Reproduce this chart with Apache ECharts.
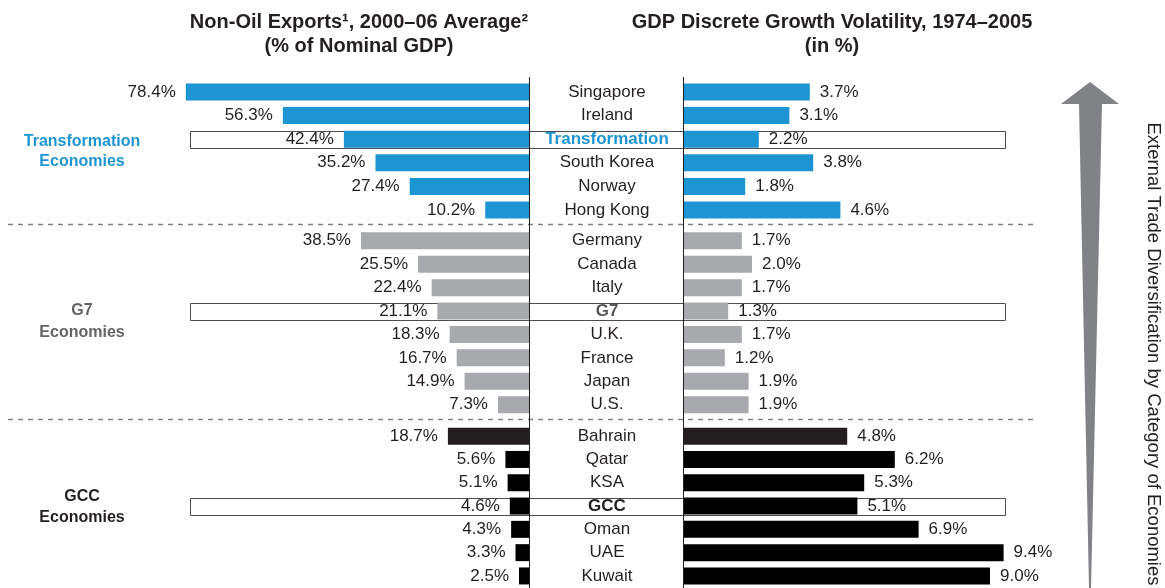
<!DOCTYPE html>
<html>
<head>
<meta charset="utf-8">
<script src="https://cdn.jsdelivr.net/npm/echarts@6/dist/echarts.min.js"></script>
<style>
html, body { margin: 0; padding: 0; background: #fff; }
#chart { width: 1165px; height: 588px; }
</style>
</head>
<body>
<div id="chart"></div>
<script>
// data
const transCountries = ['Singapore', 'Ireland', 'Transformation', 'South Korea', 'Norway', 'Hong Kong'];
const transExports = [78.4, 56.3, 42.4, 35.2, 27.4, 10.2];
const transVolatility = [3.7, 3.1, 2.2, 3.8, 1.8, 4.6];

const g7Countries = ['Germany', 'Canada', 'Italy', 'G7', 'U.K.', 'France', 'Japan', 'U.S.'];
const g7Exports = [38.5, 25.5, 22.4, 21.1, 18.3, 16.7, 14.9, 7.3];
const g7Volatility = [1.7, 2.0, 1.7, 1.3, 1.7, 1.2, 1.9, 1.9];

const gccCountries = ['Bahrain', 'Qatar', 'KSA', 'GCC', 'Oman', 'UAE', 'Kuwait'];
const gccExports = [18.7, 5.6, 5.1, 4.6, 4.3, 3.3, 2.5];
const gccVolatility = [4.8, 6.2, 5.3, 5.1, 6.9, 9.4, 9.0];

const summaryRows = ['Transformation', 'G7', 'GCC'];

const FONT = '"Liberation Sans", Arial, sans-serif';
const TEXT = '#231f20';
const BLUE = '#1e95d3';
const GRAY = '#a7a9ac';

const groups = [
  { cats: transCountries, left: transExports, right: transVolatility, color: BLUE, top: 80.2, height: 141.6 },
  { cats: g7Countries, left: g7Exports, right: g7Volatility, color: GRAY, top: 229.1, height: 187.3 },
  { cats: gccCountries, left: gccExports, right: gccVolatility, color: '#000', top: 424.5, height: 163.1 }
];

let grid = [], xAxis = [], yAxis = [], series = [];
groups.forEach((g, i) => {
  // left side: non-oil exports, growing to the left
  grid.push({ left: 91, right: 635, top: g.top, height: g.height });
  // right side: growth volatility
  grid.push({ left: 684, right: 141, top: g.top, height: g.height });

  xAxis.push({ gridIndex: 2 * i, type: 'value', min: 0, max: 100, inverse: true, show: false });
  xAxis.push({ gridIndex: 2 * i + 1, type: 'value', min: 0, max: 10, show: false });

  yAxis.push({
    gridIndex: 2 * i, type: 'category', data: g.cats, inverse: true, position: 'right', z: 20,
    axisLine: { show: false }, axisTick: { show: false }, splitLine: { show: false },
    axisLabel: {
      margin: 77, align: 'center', fontFamily: FONT, fontSize: 17, color: TEXT,
      formatter: v => {
        if (v === 'Transformation') return '{t|' + v + '}';
        if (v === 'G7') return '{g|' + v + '}';
        if (summaryRows.includes(v)) return '{s|' + v + '}';
        return v;
      },
      rich: {
        t: { fontFamily: FONT, fontSize: 17, fontWeight: 'bold', color: BLUE },
        g: { fontFamily: FONT, fontSize: 17, fontWeight: 'bold', color: '#58595b' },
        s: { fontFamily: FONT, fontSize: 17, fontWeight: 'bold', color: TEXT }
      }
    }
  });
  yAxis.push({
    gridIndex: 2 * i + 1, type: 'category', data: g.cats, inverse: true,
    axisLine: { show: false }, axisTick: { show: false }, axisLabel: { show: false }, splitLine: { show: false }
  });

  const barColor = p => (p.name === 'Bahrain' ? '#231f20' : g.color);
  const lbl = pos => ({
    show: true, position: pos, distance: 10, fontFamily: FONT, fontSize: 17, color: TEXT,
    formatter: p => p.value.toFixed(1) + '%'
  });
  series.push({
    type: 'bar', xAxisIndex: 2 * i, yAxisIndex: 2 * i, data: g.left, barWidth: 17, z: 5,
    itemStyle: { color: barColor }, label: lbl('left'), silent: true
  });
  series.push({
    type: 'bar', xAxisIndex: 2 * i + 1, yAxisIndex: 2 * i + 1, data: g.right, barWidth: 17, z: 5,
    itemStyle: { color: barColor }, label: lbl('right'), silent: true
  });
});

const chart = echarts.init(document.getElementById('chart'));
chart.setOption({ animation: false, grid, xAxis, yAxis, series });

// decorations: summary boxes, axis lines, separators, titles, arrow
const graphic = [];
groups.forEach((g, i) => {
  g.cats.forEach(c => {
    if (!summaryRows.includes(c)) return;
    const y = chart.convertToPixel({ yAxisIndex: 2 * i }, c);
    graphic.push({
      type: 'rect', z: 1, silent: true,
      shape: { x: 190.5, y: Math.round(y - 8.5) + 0.5, width: 815, height: 17 },
      style: { fill: '#fff', stroke: '#4d4d4f', lineWidth: 1 }
    });
  });
});
const x0 = chart.convertToPixel({ xAxisIndex: 0 }, 0);
const x1 = chart.convertToPixel({ xAxisIndex: 1 }, 0);
[x0, x1].forEach(x => {
  graphic.push({
    type: 'line', z: 10, silent: true,
    shape: { x1: Math.round(x) - 0.5, y1: 77, x2: Math.round(x) - 0.5, y2: 588 },
    style: { stroke: '#231f20', lineWidth: 1 }
  });
});
[224.5, 419.5].forEach(y => {
  graphic.push({
    type: 'line', z: 0, silent: true,
    shape: { x1: 8, y1: y, x2: 1034, y2: y },
    style: { stroke: '#808080', lineWidth: 1.5, lineDash: [5, 5] }
  });
});

const txt = (x, y, s, opts) => Object.assign({
  type: 'text', x: x, y: y, silent: true, z: 10,
  style: Object.assign({ text: s, fontFamily: FONT, fontSize: 17, fill: TEXT, align: 'center', verticalAlign: 'middle' }, opts || {})
});
graphic.push(txt(359, 22, 'Non-Oil Exports¹, 2000–06 Average²', { fontWeight: 'bold', fontSize: 20 }));
graphic.push(txt(359, 46, '(% of Nominal GDP)', { fontWeight: 'bold', fontSize: 20 }));
graphic.push(txt(832, 22, 'GDP Discrete Growth Volatility, 1974–2005', { fontWeight: 'bold', fontSize: 20 }));
graphic.push(txt(832, 46, '(in %)', { fontWeight: 'bold', fontSize: 20 }));

graphic.push(txt(82, 142, 'Transformation', { fontWeight: 'bold', fontSize: 16, fill: BLUE }));
graphic.push(txt(82, 162, 'Economies', { fontWeight: 'bold', fontSize: 16, fill: BLUE }));
graphic.push(txt(82, 311, 'G7', { fontWeight: 'bold', fontSize: 16, fill: '#636466' }));
graphic.push(txt(82, 333, 'Economies', { fontWeight: 'bold', fontSize: 16, fill: '#636466' }));
graphic.push(txt(82, 497, 'GCC', { fontWeight: 'bold', fontSize: 16, fill: TEXT }));
graphic.push(txt(82, 518, 'Economies', { fontWeight: 'bold', fontSize: 16, fill: TEXT }));

graphic.push({
  type: 'polygon', z: 1, silent: true,
  shape: { points: [[1090, 82], [1119, 104], [1102, 104], [1091, 588], [1089, 588], [1079, 104], [1061, 104]] },
  style: { fill: '#808285' }
});
graphic.push({
  type: 'text', x: 1153, y: 354, rotation: -Math.PI / 2, silent: true,
  style: { text: 'External Trade Diversification by Category of Economies', fontFamily: FONT, fontSize: 18.5, fill: TEXT, align: 'center', verticalAlign: 'middle' }
});

chart.setOption({ graphic });
</script>
</body>
</html>
